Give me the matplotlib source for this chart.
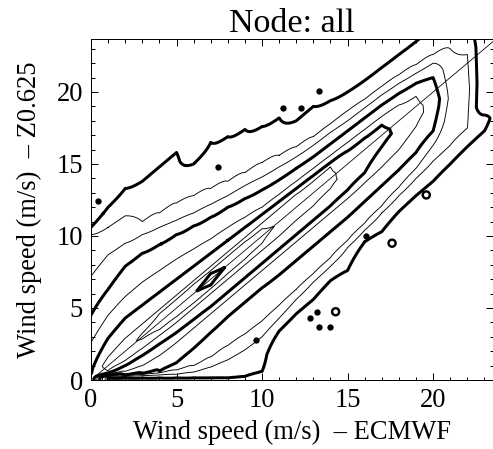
import numpy as np
import matplotlib.pyplot as plt
from matplotlib.ticker import MultipleLocator

plt.rcParams['font.family'] = ['Liberation Serif', 'DejaVu Serif']

nan = np.nan

# ECMWF wind speed (m/s) columns where the contour crossings were read
ecmwf = np.arange(0, 25)

# Z0.625 wind speed (m/s) where each density level crosses a column,
# above the ridge (_up) and below it (_lo); level 1 = outermost
lvl1_up = [10.6, 12.0, 13.3, 13.8, 14.8, 15.8, 15.0, 16.5, 16.9, 17.4, 17.6, 18.2, 18.0,
           19.0, 19.4, 20.0, 20.8, 21.7, 22.6, 23.5, 24.5, 25.0, 25.0, 18.4, nan]
lvl1_lo = [nan, 0.15, 0.15, 0.15, 0.15, 0.15, 0.15, 0.15, 0.15, 0.25, 0.6, 3.4, 4.6,
           5.6, 6.9, 7.6, 9.6, 10.3, 11.7, 12.8, 13.8, 15.0, 16.2, 17.3, nan]
lvl2_up = [10.1, 10.6, 11.4, 11.0, 11.6, 12.3, 12.8, 13.3, 13.8, 14.4, 15.1, 15.6, 16.2,
           16.9, 17.8, 18.7, 19.5, 20.4, 21.2, 21.9, 22.6, 23.0, 22.6, nan, nan]
lvl2_lo = [nan, 0.25, 0.25, 0.3, 0.35, 0.4, 0.55, 0.9, 1.4, 2.1, 3.0, 4.3, 5.6,
           6.8, 7.9, 9.2, 10.4, 11.6, 12.8, 14.0, 15.2, 16.3, 17.5, nan, nan]
lvl3_up = [7.2, 8.7, 9.5, 10.1, 10.6, 11.1, 11.6, 12.2, 12.8, 13.5, 14.1, 14.8, 15.5,
           16.3, 17.2, 18.0, 18.9, 19.8, 20.6, 21.3, 22.0, nan, nan, nan, nan]
lvl3_lo = [nan, 0.3, 0.3, 0.4, 0.5, 0.7, 1.0, 1.6, 2.4, 3.2, 4.1, 5.2, 6.3,
           7.4, 8.5, 9.7, 10.9, 12.1, 13.4, 14.7, 16.3, nan, nan, nan, nan]
lvl4_up = [4.5, 6.3, 7.9, 8.8, 9.4, 10.1, 10.7, 11.3, 12.0, 12.6, 13.2, 13.9, 14.7,
           15.5, 16.4, 17.3, 18.2, 19.1, 19.9, 20.6, 21.0, nan, nan, nan, nan]
lvl4_lo = [nan, 0.35, 0.35, 0.45, 0.6, 1.2, 2.2, 3.3, 4.4, 5.4, 6.4, 7.3, 8.3,
           9.3, 10.3, 11.3, 12.4, 13.5, 14.6, 15.8, 17.3, nan, nan, nan, nan]
lvl5_up = [2.6, 4.5, 5.8, 6.8, 7.6, 8.4, 9.1, 9.8, 10.6, 11.3, 12.0, 12.9, 13.8,
           14.7, 15.6, 16.5, 17.4, 18.3, 19.1, 19.7, nan, nan, nan, nan, nan]
lvl5_lo = [nan, 0.4, 0.6, 1.0, 1.7, 2.6, 3.6, 4.6, 5.6, 6.6, 7.6, 8.6, 9.6,
           10.6, 11.6, 12.6, 13.7, 14.8, 16.0, 17.6, nan, nan, nan, nan, nan]
lvl6_up = [0.4, 2.9, 4.3, 5.2, 6.1, 7.0, 7.9, 8.8, 9.7, 10.6, 11.5, 12.4, 13.3,
           14.2, 15.1, 15.9, 16.8, 17.7, nan, nan, nan, nan, nan, nan, nan]
lvl6_lo = [nan, 0.5, 1.0, 1.7, 2.5, 3.3, 4.2, 5.1, 6.1, 7.1, 8.1, 9.1, 10.1,
           11.1, 12.1, 13.2, 14.4, 16.2, nan, nan, nan, nan, nan, nan, nan]
lvl7_up = [0.2, 1.6, 2.9, 3.9, 4.9, 5.9, 6.9, 7.9, 8.9, 9.9, 10.9, 11.9, 12.9,
           13.8, 14.8, nan, nan, nan, nan, nan, nan, nan, nan, nan, nan]
lvl7_lo = [nan, 0.65, 1.35, 2.2, 3.1, 4.0, 5.0, 6.0, 7.0, 8.0, 9.0, 10.0, 11.1,
           12.1, 13.3, nan, nan, nan, nan, nan, nan, nan, nan, nan, nan]
lvl8_up = [nan, nan, nan, 3.25, 4.6, 5.6, 6.65, 7.6, 8.6, 9.6, 10.5] + [nan] * 14
lvl8_lo = [nan, nan, nan, 2.85, 3.5, 4.4, 5.35, 6.35, 7.4, 8.4, 9.5] + [nan] * 14
lvl9_up = [nan] * 7 + [7.4] + [nan] * 17
lvl9_lo = [nan] * 7 + [6.6] + [nan] * 17

# level reached on the ridge of each column
ridge = [7.5, 7.6, 7.7, 8.2, 8.5, 8.6, 8.9, 9.5, 8.9, 8.6, 8.3, 7.9, 7.6,
         7.4, 7.2, 6.9, 6.6, 6.3, 5.9, 5.3, 4.8, 2.8, 2.3, 1.5, 0.0]

# isolated single bins above the outermost level
spot_x = [0.43, 11.2, 12.3, 13.3, 16.1, 12.8, 13.2, 7.4, 9.65, 13.3, 14.0]
spot_y = [12.4, 18.9, 18.9, 20.1, 10.0, 4.3, 4.74, 14.8, 2.8, 3.7, 3.7]
ring_x = [19.6, 17.6, 14.3]
ring_y = [12.85, 9.5, 4.74]

upper = [lvl1_up, lvl2_up, lvl3_up, lvl4_up, lvl5_up, lvl6_up, lvl7_up, lvl8_up, lvl9_up]
lower = [lvl1_lo, lvl2_lo, lvl3_lo, lvl4_lo, lvl5_lo, lvl6_lo, lvl7_lo, lvl8_lo, lvl9_lo]

# level profile of every column (y, level) from the crossings
profiles = []
for j in range(len(ecmwf)):
    ups = [(k + 1, u[j]) for k, u in enumerate(upper) if not np.isnan(u[j])]
    los = [(k + 1, l[j]) for k, l in enumerate(lower) if not np.isnan(l[j])]
    if not ups and not los:
        profiles.append(None)
        continue
    hi, lo = dict(ups), dict(los)
    top = max(list(hi) + list(lo))
    if top in hi and top in lo:
        py = (hi[top] + lo[top]) / 2
    elif top in hi:
        py = hi[top] - 0.5
    else:
        py = lo[top] + 0.5
    pts = []
    if los:
        pts.append((los[0][1] - 1, 0))
        pts += [(y, k) for k, y in los]
    pts.append((py, ridge[j]))
    pts += [(y, k) for k, y in reversed(ups)]
    pts.append((ups[0][1] + 1, 0))
    profiles.append(tuple(zip(*pts)))


def column(j, y):
    if profiles[j] is None:
        return np.zeros_like(y)
    ys, vs = profiles[j]
    return np.interp(y, ys, vs, right=0)


# table for contour: neighbouring columns joined along the 1:1 direction
xf = np.arange(0, 23.8, 0.05)
yf = np.arange(0, 23.9, 0.05)
XX, YY = np.meshgrid(xf, yf)
field = np.zeros_like(XX)
shift = np.clip(YY / 2, 0, 1)
for j in range(len(ecmwf) - 1):
    m = (XX >= j) & (XX < j + 1)
    t = XX[m] - j
    s = shift[m]
    field[m] = (1 - t) * column(j, YY[m] - t * s) + t * column(j + 1, YY[m] + (1 - t) * s)

fig = plt.figure(figsize=(493 / 72, 449 / 72), dpi=72)
ax = fig.add_axes([91 / 493, 69 / 449, 402 / 493, 341 / 449])

thick, thin = 3.0, 0.9
ax.contour(XX, YY, field, levels=np.arange(1, 10), colors='k',
           linewidths=[thick, thin, thin, thick, thin, thick, thin, thin, thick])
ax.axline((0, 0), slope=1, color='k', lw=0.8)
ax.scatter(spot_x, spot_y, s=40, color='k', lw=0)
ax.scatter(ring_x, ring_y, s=50, facecolor='none', edgecolor='k', lw=2.4)

ax.set_xlim(0, 23.5)
ax.set_ylim(0, 23.68)
ax.xaxis.set_major_locator(MultipleLocator(5))
ax.yaxis.set_major_locator(MultipleLocator(5))
ax.xaxis.set_minor_locator(MultipleLocator(1))
ax.yaxis.set_minor_locator(MultipleLocator(1))
ax.tick_params(which='both', direction='in', top=True, right=True, width=1)
ax.tick_params(which='major', length=7, labelsize=26.5, pad=8)
ax.tick_params(which='minor', length=3.5)
for s in ax.spines.values():
    s.set_linewidth(1)

ax.set_title('Node: all', fontsize=34, pad=5)
ax.set_xlabel('Wind speed (m/s)  \u2013 ECMWF', fontsize=26.5, labelpad=7)
ax.set_ylabel('Wind speed (m/s)  \u2013 Z0.625', fontsize=26.5, labelpad=14)

fig.savefig('out.png', dpi=72)
